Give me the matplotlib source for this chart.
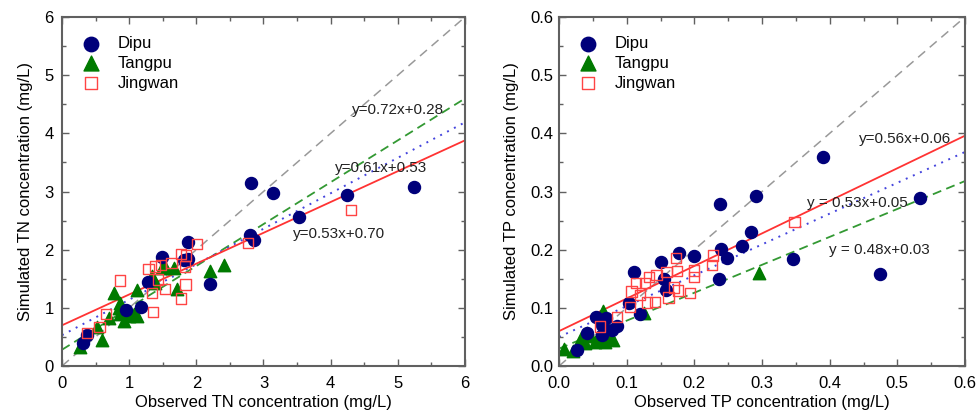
import numpy as np
import matplotlib
matplotlib.use("Agg")
import matplotlib.pyplot as plt
from matplotlib.ticker import MultipleLocator

plt.rcParams['font.family'] = ['Liberation Sans', 'DejaVu Sans']
plt.rcParams['font.size'] = 12

# ---- TN data (observed, simulated) ----
tn_dipu_x = [1.87, 1.49, 1.82, 1.87, 1.28, 2.21, 1.17, 0.96, 0.37, 0.32,
             2.81, 3.14, 3.53, 4.25, 5.24, 2.80, 2.86]
tn_dipu_y = [2.13, 1.87, 1.83, 1.84, 1.45, 1.41, 1.01, 0.96, 0.54, 0.40,
             3.14, 2.97, 2.57, 2.94, 3.08, 2.25, 2.16]
tn_tang_x = [0.27, 0.52, 0.60, 0.70, 0.78, 0.85, 0.87, 0.92, 1.00, 1.07,
             1.12, 1.11, 1.34, 1.39, 1.49, 1.54, 1.67, 1.71, 2.20, 2.41,
             0.90, 0.86]
tn_tang_y = [0.33, 0.67, 0.44, 0.83, 1.25, 1.00, 0.90, 0.77, 0.86, 0.89,
             0.86, 1.31, 1.55, 1.43, 1.69, 1.70, 1.69, 1.33, 1.64, 1.74,
             0.94, 1.08]
tn_jing_x = [0.86, 0.56, 0.66, 0.37, 1.29, 1.39, 1.47, 1.63, 1.77, 1.85,
             2.01, 1.83, 1.84, 1.77, 1.35, 1.34, 1.53, 1.43, 4.30, 2.77]
tn_jing_y = [1.47, 0.67, 0.90, 0.57, 1.67, 1.71, 1.74, 1.77, 1.93, 1.90,
             2.10, 1.71, 1.40, 1.16, 0.93, 1.26, 1.33, 1.49, 2.68, 2.11]

# ---- TP data ----
tp_dipu_x = [0.238, 0.291, 0.283, 0.240, 0.249, 0.270, 0.236, 0.199, 0.178,
             0.151, 0.111, 0.155, 0.158, 0.103, 0.119, 0.055, 0.070, 0.063,
             0.078, 0.085, 0.041, 0.026, 0.064, 0.390, 0.533, 0.474, 0.346]
tp_dipu_y = [0.279, 0.292, 0.230, 0.202, 0.186, 0.206, 0.149, 0.190, 0.195,
             0.178, 0.161, 0.150, 0.130, 0.109, 0.090, 0.085, 0.083, 0.071,
             0.062, 0.068, 0.057, 0.028, 0.053, 0.359, 0.289, 0.158, 0.184]
tp_tang_x = [0.296, 0.125, 0.065, 0.008, 0.021, 0.033, 0.038, 0.046, 0.053,
             0.060, 0.068, 0.080, 0.041, 0.065, 0.075]
tp_tang_y = [0.160, 0.092, 0.094, 0.030, 0.025, 0.048, 0.039, 0.051, 0.042,
             0.048, 0.042, 0.045, 0.056, 0.080, 0.051]
tp_jing_x = [0.061, 0.086, 0.105, 0.107, 0.114, 0.120, 0.127, 0.133, 0.144,
             0.130, 0.142, 0.159, 0.162, 0.170, 0.174, 0.173, 0.176, 0.194,
             0.199, 0.200, 0.226, 0.228, 0.348]
tp_jing_y = [0.068, 0.084, 0.101, 0.128, 0.143, 0.122, 0.143, 0.153, 0.156,
             0.109, 0.110, 0.162, 0.118, 0.135, 0.163, 0.186, 0.130, 0.126,
             0.153, 0.164, 0.174, 0.190, 0.248]

# regression lines: (slope, intercept) for Tangpu, Dipu, Jingwan
tn_fits = [(0.72, 0.28), (0.61, 0.53), (0.53, 0.70)]
tp_fits = [(0.48, 0.03), (0.53, 0.05), (0.56, 0.06)]

tn_labels = ["y=0.72x+0.28", "y=0.61x+0.53", "y=0.53x+0.70"]
tn_label_pos = [(4.31, 4.40), (4.07, 3.41), (3.44, 2.27)]
tp_labels = ["y = 0.48x+0.03", "y = 0.53x+0.05", "y=0.56x+0.06"]
tp_label_pos = [(0.399, 0.200), (0.367, 0.281), (0.443, 0.390)]

c_dipu = '#00007a'
c_tang = '#007a00'
c_jing = '#ff4444'
spine_c = '#606060'


def panel(ax, lim, major, dx, dy, tx, ty, jx, jy, fits, labels, pos, xlab, ylab, fmt, ypad):
    xs = np.array([0, lim])
    ax.plot(xs, xs, color='#999999', ls=(0, (6, 4)), lw=1.1, zorder=1)
    styles = [((0, (5, 3)), 1.3, '#339933'),
              ((0, (1, 3)), 1.4, '#4444dd'),
              ('-', 1.3, '#ff3333')]
    for (m, b), (ls, lw, col) in zip(fits, styles):
        ax.plot(xs, m * xs + b, color=col, ls=ls, lw=lw, zorder=1)

    ax.scatter(jx, jy, marker='s', s=55, facecolors='none', edgecolors=c_jing,
               linewidths=1.0, label='Jingwan', zorder=3)
    ax.scatter(tx, ty, marker='^', s=80, color=c_tang, label='Tangpu', zorder=2)
    ax.scatter(dx, dy, marker='o', s=75, color=c_dipu, label='Dipu', zorder=2)

    for t, (x, y) in zip(labels, pos):
        ax.text(x, y, t, fontsize=11, va='center', ha='left', color='#222222')

    ax.set_xlim(0, lim)
    ax.set_ylim(0, lim)
    ax.xaxis.set_major_locator(MultipleLocator(major))
    ax.yaxis.set_major_locator(MultipleLocator(major))
    ax.xaxis.set_minor_locator(MultipleLocator(major / 2))
    ax.yaxis.set_minor_locator(MultipleLocator(major / 2))
    ax.xaxis.set_major_formatter(fmt)
    ax.yaxis.set_major_formatter(fmt)
    ax.tick_params(which='both', direction='in', top=True, right=True,
                   color=spine_c, labelsize=12)
    ax.tick_params(which='major', length=5, width=1)
    ax.tick_params(which='minor', length=3, width=1)
    ax.tick_params(axis='x', which='major', pad=7)
    ax.tick_params(axis='y', which='major', pad=ypad)
    for s in ax.spines.values():
        s.set_color(spine_c)
        s.set_linewidth(1.5)
    ax.set_xlabel(xlab, fontsize=12, labelpad=3)
    ax.set_ylabel(ylab, fontsize=12, labelpad=8)

    h, l = ax.get_legend_handles_labels()
    order = [2, 1, 0]
    ax.legend([h[i] for i in order], [l[i] for i in order], loc='upper left',
              frameon=False, fontsize=12, markerscale=1.2, handletextpad=1.0,
              labelspacing=0.28, borderaxespad=0.75, handlelength=1.2)


fig = plt.figure(figsize=(9.79, 4.15), dpi=100)
ax1 = fig.add_axes([0.0633, 0.118, 0.4117, 0.841])
ax2 = fig.add_axes([0.571, 0.118, 0.4147, 0.841])

panel(ax1, 6, 1, tn_dipu_x, tn_dipu_y, tn_tang_x, tn_tang_y, tn_jing_x, tn_jing_y,
      tn_fits, tn_labels, tn_label_pos,
      'Observed TN concentration (mg/L)', 'Simulated TN concentration (mg/L)', '{x:.0f}', 6)
panel(ax2, 0.6, 0.1, tp_dipu_x, tp_dipu_y, tp_tang_x, tp_tang_y, tp_jing_x, tp_jing_y,
      tp_fits, tp_labels, tp_label_pos,
      'Observed TP concentration (mg/L)', 'Simulated TP concentration (mg/L)', '{x:.1f}', 4)

fig.savefig('out.png', dpi=100)
